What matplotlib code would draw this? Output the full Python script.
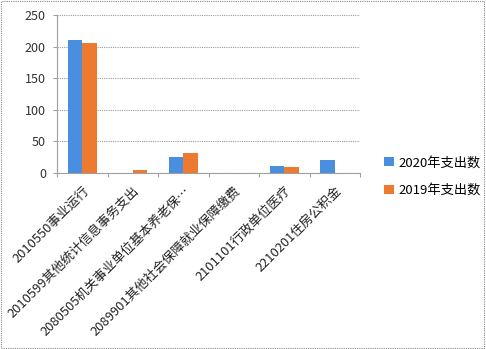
import matplotlib
matplotlib.use("Agg")
import matplotlib.pyplot as plt
import numpy as np
from matplotlib.patches import Rectangle

plt.rcParams['font.family'] = ['Noto Sans CJK SC', 'DejaVu Sans']

categories = ["2010550事业运行", "2010599其他统计信息事务支出", "2080505机关事业单位基本养老保…",
              "2089901其他社会保障就业保障缴费", "2101101行政单位医疗", "2210201住房公积金"]
series_2020 = [210, 0, 26, 0, 11, 20]
series_2019 = [205, 4, 31, 0, 10, 0]
series_names = ["2020年支出数", "2019年支出数"]
yticks = [0, 50, 100, 150, 200, 250]

fig = plt.figure(figsize=(4.86, 3.49), dpi=100)
ax = fig.add_axes([57/486, 1-173/349, (360-57)/486, (173-15)/349])

x = np.arange(len(categories))
w = 0.29
blue = '#4A8FDF'
orange = '#EE7A2F'
ax.bar(x - w/2, series_2020, w, color=blue, label=series_names[0], zorder=3)
ax.bar(x + w/2, series_2019, w, color=orange, label=series_names[1], zorder=3)

ax.set_xlim(-0.5, len(categories) - 0.5)
ax.set_ylim(0, 250)
ax.set_yticks(yticks)
ax.set_yticklabels([str(v) for v in yticks], fontsize=9, color='#333333')
ax.yaxis.grid(True, linestyle=(0, (1, 1)), color='#9a9a9a', linewidth=0.8, zorder=0)
for s in ['top', 'right']:
    ax.spines[s].set_visible(False)
for s in ['left', 'bottom']:
    ax.spines[s].set_color('#a0a0a0')
    ax.spines[s].set_linestyle((0, (1, 1)))
ax.tick_params(axis='y', length=3, color='#a0a0a0', pad=5)

ax.set_xticks(np.arange(-0.5, len(categories)), minor=False)
ax.set_xticklabels([])
ax.tick_params(axis='x', which='major', length=3, color='#a0a0a0')
ax.set_xticks(x, minor=True)
ax.set_xticklabels(categories, minor=True, rotation=45, ha='right', va='top',
                   rotation_mode='anchor', fontsize=9.3, color='#222222')
ax.tick_params(axis='x', which='minor', length=0, pad=8)

leg = fig.legend(loc='upper left', bbox_to_anchor=(379/486, 1-151/349), frameon=False,
                 fontsize=9.5, handlelength=0.7, handleheight=0.7, handletextpad=0.35,
                 labelspacing=1.1, borderaxespad=0)

fig.patches.append(Rectangle((0.002, 0.003), 0.994, 0.994, transform=fig.transFigure,
                             fill=False, edgecolor='#888888', linestyle=(0, (1, 1)), linewidth=0.8))

fig.savefig('out.png', dpi=100)
